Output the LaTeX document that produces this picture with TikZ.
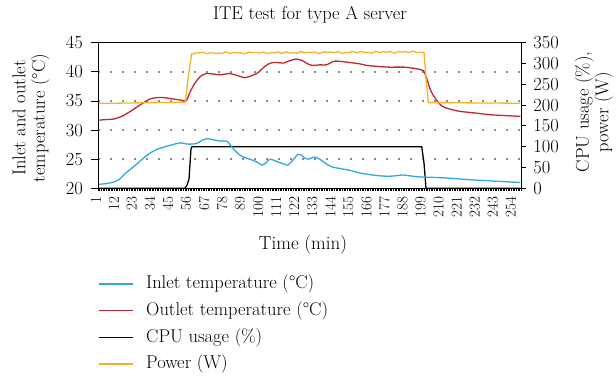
\documentclass[tikz,border=0pt]{standalone}
\usepackage{fontspec}
\usepackage{tikz}
\usetikzlibrary{positioning}
\definecolor{InletBlue}{HTML}{2EA8DF}
\definecolor{OutletRed}{HTML}{C0282E}
\definecolor{PowerGold}{HTML}{F7B22A}
\definecolor{GridGray}{HTML}{8C8C8C}

\begin{document}
\begin{tikzpicture}[x=1pt,y=1pt,
  every node/.style={inner sep=0pt},
  datline/.style={line width=1.3pt,line join=round},
  gridline/.style={GridGray,line width=1.4pt,dash pattern=on 1.6pt off 10.4pt},
  ylbl/.style={font=\fontsize{18.5}{20}\selectfont},
  xlbl/.style={font=\fontsize{15}{16}\selectfont,xshift=-3pt,yshift=-8pt,rotate=90,anchor=east},
  axtitle/.style={font=\fontsize{18.5}{19.5}\selectfont,align=center},
  legtxt/.style={font=\fontsize{18.5}{20}\selectfont,anchor=west}]
\useasboundingbox (0,0) rectangle (616,379);

\node[font=\fontsize{18.5}{20}\selectfont] (title) at (310,364) {ITE test for type A server};

% temperature axis: minutes x, degrees y
\begin{scope}[x=1.64pt,y=5.824pt,shift={(97.18pt,74.22pt)}]
  \foreach \t in {25,30,35,40}
    \draw[gridline] (0.5,\t) -- (258.5,\t);
  % CPU usage and inlet
  \begin{scope}[y=0.416pt,shift={(0,116.48pt)}]
    \draw[datline,black] (1,0) -- (53.5,0) -- (54.8,8) -- (56,22) -- (57.2,95) -- (57.8,100)
      -- (197.9,100) -- (199.3,60) -- (200.5,0) -- (258,0);
  \end{scope}
  \draw[datline,InletBlue] plot[smooth,tension=0.5] coordinates {
    (1,20.7) (5.5,20.8) (10.4,21.1) (13.4,21.5) (17.3,22.6) (22.2,23.7) (27.1,24.9)
    (32,26.0) (35.9,26.6) (39.8,27.0) (44.7,27.4) (50.7,27.8) (54.6,27.6) (58.5,27.6)
    (61.5,27.8) (64.4,28.3) (67.4,28.5) (71.3,28.3) (75.2,28.1) (79.1,28.1) (82.1,27.1)
    (85,26.2) (88,25.5) (92.9,25.0) (96.8,24.6) (100.7,24.0) (103.7,24.6) (105.6,25.0)
    (109.6,24.6) (113.5,24.2) (116.4,24.0) (120.4,25.2) (122.3,25.8) (124.3,25.7)
    (127.2,25.1) (129.2,25.0) (132.1,25.35) (135.1,25.1) (142,23.8) (147.9,23.4)
    (153.8,23.1) (160.6,22.6) (167.5,22.3) (174.4,22.1) (180.3,22.1) (186.2,22.3)
    (189.1,22.2) (196.9,21.95) (211,21.8) (231.3,21.4) (258,21.0)};
  \draw[datline,OutletRed] plot[smooth,tension=0.5] coordinates {
    (1,31.7) (5.5,31.8) (10.4,31.9) (15.3,32.4) (20.2,33.2) (26.1,34.3) (32,35.3)
    (35.9,35.55) (39.8,35.6) (44.7,35.4) (49.7,35.2) (53.6,35.0) (54.6,35.1) (56.6,36.5)
    (59.5,38.0) (62.5,39.1) (66.4,39.7) (71.3,39.6) (75.2,39.5) (81.1,39.7) (86,39.3)
    (89.9,39.0) (93.9,39.3) (97.8,39.8) (101.7,40.8) (105.6,41.5) (109.6,41.6)
    (113.5,41.5) (117.4,41.9) (121.4,42.2) (125.3,41.9) (128.2,41.4) (131.2,41.1)
    (136.1,41.2) (140,41.2) (143.9,41.8) (147.9,41.8) (153.8,41.6) (159.6,41.4)
    (164.5,41.1) (172.4,40.9) (178.3,40.8) (187.1,40.8) (193,40.6) (196.9,40.4)
    (198.9,40.2) (200.9,38.9) (202.8,37.2) (204.8,36.0) (206.8,35.2) (208.7,34.5)
    (211.7,33.9) (216.6,33.5) (221.5,33.2) (231.3,32.9) (241.1,32.6) (258,32.35)};
  % power
  \begin{scope}[y=0.416pt,shift={(0,116.48pt)}]
    \draw[datline,PowerGold] (1,204) -- (53.8,207) -- (55.6,270) -- (57.6,323)
      -- plot[domain=57.6:199.3,samples=143]
         (\x,{325+0.02*(\x-57.6)+1.1*sin(79*\x)+0.9*sin(47*\x+20)+0.7*sin(23*\x+50)})
      -- (200.4,270) -- (201.9,206) -- (258,204.5);
  \end{scope}

  % axes frame and ticks
  \foreach \m in {0,...,258}
    \draw[line width=0.6pt] (\m+0.5,20) -- ++(0,-3pt);
  \foreach \t in {20,25,...,45} {
    \draw[line width=0.8pt] (0.5,\t) -- ++(-7pt,0);
    \node[ylbl,anchor=east] (yl\t) at ([xshift=-15pt]0.5,\t) {\t};
  }
  \foreach \m in {1,12,...,254}
    \node[xlbl] (xl\m) at (\m,20) {\m};
  \begin{scope}[y=0.416pt,shift={(0,116.48pt)}]
    \foreach \w in {0,50,...,350} {
      \draw[line width=0.8pt] (258.5,\w) -- ++(5pt,0);
      \node[ylbl,anchor=west] (wl\w) at ([xshift=12pt]258.5,\w) {\w};
    }
  \end{scope}
  \draw[line width=0.9pt] (0.5,20) rectangle (258.5,45);
\end{scope}

\node[axtitle,rotate=90] (tempttl) at (31,261) {Inlet and outlet\\temperature (°C)};
\node[axtitle,rotate=90] (cputtl) at (594,267) {CPU usage (\%),\\power (W)};
\node[font=\fontsize{19}{20}\selectfont] (timettl) at (303,134) {Time (min)};

% legend
\node[legtxt] (lgInlet) at (146,95) {Inlet temperature (°C)};
\node[legtxt,below=26.7pt of lgInlet.west,anchor=west] (lgOutlet) {Outlet temperature (°C)};
\node[legtxt,below=26.7pt of lgOutlet.west,anchor=west] (lgCpu) {CPU usage (\%)};
\node[legtxt,below=26.7pt of lgCpu.west,anchor=west] (lgPower) {Power (W)};
\foreach \k/\c in {Inlet/InletBlue,Outlet/OutletRed,Cpu/black,Power/PowerGold}
  \draw[datline,\c] ([xshift=-47pt]lg\k.west) -- ([xshift=-13pt]lg\k.west);
\end{tikzpicture}
\end{document}
